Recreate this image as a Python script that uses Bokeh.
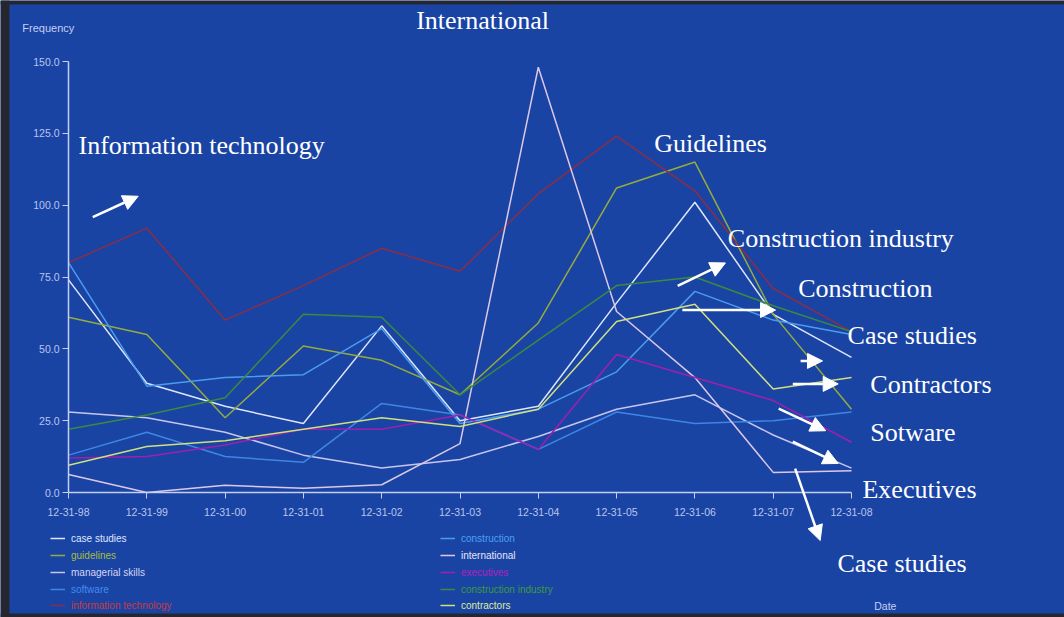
from bokeh.plotting import figure
from bokeh.models import (Range1d, FixedTicker, PrintfTickFormatter, Legend, LegendItem,
                          Label, Arrow, NormalHead, ColumnDataSource, BoxAnnotation)
from bokeh.embed import file_html
from bokeh.resources import INLINE

# ---------------- data ----------------
dates = ["12-31-98", "12-31-99", "12-31-00", "12-31-01", "12-31-02", "12-31-03",
         "12-31-04", "12-31-05", "12-31-06", "12-31-07", "12-31-08"]
case_studies = [74, 38, 30, 24, 58, 25, 30, 66, 101, 62, 47]
guidelines = [61, 55, 26, 51, 46, 34, 59, 106, 115, 62, 29]
managerial_skills = [28, 26, 21, 13, 8.5, 11.5, 19.5, 29, 34, 20, 8.5]
software = [13, 21, 12.5, 10.5, 31, 27, 15, 28, 24, 25, 28]
information_technology = [80, 92, 60, 72, 85, 77, 104, 124, 105, 71, 56]
construction = [80, 37, 40, 41, 57, 24, 29, 42, 70, 60, 55]
international = [6.3, 0, 2.5, 1.5, 2.7, 17, 148, 63, 40, 7, 7.6]
executives = [12, 12.5, 16.5, 22, 22, 27, 15, 48, 40, 32, 17.5]
construction_industry = [22, 27, 33, 62, 61, 34, 53, 72, 75, 65, 56]
contractors = [9.5, 16, 18, 22, 26, 23, 29, 59.5, 65.5, 36, 40]

series_names = ["case studies", "guidelines", "managerial skills", "software",
                "information technology", "construction", "international",
                "executives", "construction industry", "contractors"]
series_values = [case_studies, guidelines, managerial_skills, software,
                 information_technology, construction, international,
                 executives, construction_industry, contractors]
y_ticks = [0, 25, 50, 75, 100, 125, 150]

# ---------------- styles / layout ----------------
W, H = 1064, 617
FRAME_L, FRAME_R, FRAME_T, FRAME_B = 68, 851, 61, 492   # where the data box sits (px)
X_MAX, Y_MAX = 10, 150
sx = (FRAME_R - FRAME_L) / X_MAX
sy = (FRAME_B - FRAME_T) / Y_MAX
x0r, x1r = -FRAME_L / sx, (W - FRAME_L) / sx
y0r, y1r = -(H - FRAME_B) / sy, Y_MAX + FRAME_T / sy

BG = "#1a44a4"
EDGE = "#26262e"
AXIS = "#c4cff2"
line_colors = ["#dfe6fb", "#94ac3c", "#c6c6ee", "#3d86e6", "#8a2e46",
               "#4a9cf0", "#dcc8e6", "#a01fae", "#3a8a40", "#cfe07e"]
text_colors = ["#dfe6ff", "#a8bc40", "#d6d4f4", "#3f8cf0", "#c83a3a",
               "#4aa0f4", "#e8e4f8", "#b020c0", "#3c9a3c", "#dfeb9a"]

p = figure(width=W, height=H, output_backend="svg", toolbar_location=None,
           x_range=Range1d(x0r, x1r), y_range=Range1d(y0r, y1r),
           min_border_left=0, min_border_right=0, min_border_top=0,
           min_border_bottom=0)
p.background_fill_color = BG
p.border_fill_color = BG
p.outline_line_color = None
p.xgrid.visible = False
p.ygrid.visible = False

# dark scan edges of the original page
for l, r, b, t in [(x0r, x0r + 9 / sx, y0r, y1r),
                   (x0r, x1r, y1r - 4 / sy, y1r),
                   (x0r, x1r, y0r, y0r + 4 / sy)]:
    p.add_layout(BoxAnnotation(left=l, right=r, bottom=b, top=t, fill_color=EDGE,
                               fill_alpha=1, line_color=None, level="underlay"))

xs = list(range(len(dates)))
renderers = []
for name, vals, col in zip(series_names, series_values, line_colors):
    src = ColumnDataSource(dict(x=xs, y=vals))
    r = p.line("x", "y", source=src, line_color=col, line_width=1.5)
    renderers.append(r)

# axes, pinned at the data origin
for ax in (p.xaxis[0], p.yaxis[0]):
    ax.fixed_location = 0
    ax.axis_line_color = AXIS
    ax.axis_line_width = 1.5
    ax.major_tick_line_color = AXIS
    ax.major_tick_out = 6
    ax.major_tick_in = 0
    ax.minor_tick_line_color = None
    ax.major_label_text_color = "#b9c5ee"
    ax.major_label_text_font = "Liberation Sans"
    ax.major_label_text_font_size = "10.5px"

p.xaxis.bounds = (0, X_MAX)
p.xaxis.ticker = FixedTicker(ticks=xs)
p.xaxis.major_label_overrides = {i: d for i, d in enumerate(dates)}
p.xaxis.major_label_standoff = 9
p.yaxis.bounds = (0, Y_MAX)
p.yaxis.ticker = FixedTicker(ticks=y_ticks)
p.yaxis.formatter = PrintfTickFormatter(format="%.1f")
p.yaxis.major_label_standoff = 3

# legends (two columns below the plot)
legend_pos = [(50, 73), (50, 56), (50, 39), (50, 22), (50, 6),
              (440, 73), (440, 56), (440, 39), (440, 22), (440, 6)]
for name, r, tc, loc in zip(series_names, renderers, text_colors, legend_pos):
    lg = Legend(items=[LegendItem(label=name, renderers=[r])], location=loc,
                background_fill_alpha=0, border_line_alpha=0,
                label_text_color=tc, label_text_font="Liberation Sans",
                label_text_font_size="10px", glyph_width=15, glyph_height=12,
                label_height=12, padding=0, margin=0, spacing=0, label_standoff=6)
    p.add_layout(lg)

# axis titles
p.add_layout(Label(x=-0.59, y=161.8, text="Frequency", text_color="#c4cff2",
                   text_font="Liberation Sans", text_font_size="11px",
                   text_baseline="middle", text_align="left"))
p.add_layout(Label(x=10.29, y=-39.5, text="Date", text_color="#c4cff2",
                   text_font="Liberation Sans", text_font_size="10.5px",
                   text_baseline="middle", text_align="left"))

# annotation texts
notes = [("Information technology", 0.128, 120.7),
         ("International", 4.44, 164.2),
         ("Guidelines", 7.48, 121.3),
         ("Construction industry", 8.42, 88.5),
         ("Construction", 9.32, 71.0),
         ("Case studies", 9.95, 54.5),
         ("Contractors", 10.24, 37.5),
         ("Sotware", 10.24, 20.8),
         ("Executives", 10.14, 1.0),
         ("Case studies", 9.82, -24.8)]
for t, x, y in notes:
    p.add_layout(Label(x=x, y=y, text=t, text_color="white",
                       text_font="Liberation Serif", text_font_size="26px",
                       text_baseline="middle", text_align="left"))

arrows = [(0.31, 95.8, 0.89, 103.1),
          (7.78, 71.9, 8.39, 79.9),
          (7.84, 63.5, 9.03, 63.5),
          (9.35, 45.8, 9.63, 45.8),
          (9.25, 37.8, 9.83, 37.8),
          (9.07, 29.2, 9.67, 21.5),
          (9.25, 17.7, 9.83, 10.1),
          (9.28, 8.3, 9.60, -16.7)]
for xa, ya, xb, yb in arrows:
    p.add_layout(Arrow(end=NormalHead(size=15, fill_color="white", line_color="white"),
                       x_start=xa, y_start=ya, x_end=xb, y_end=yb,
                       line_color="white", line_width=2.5))

open("out.html", "w").write(file_html(p, INLINE))
